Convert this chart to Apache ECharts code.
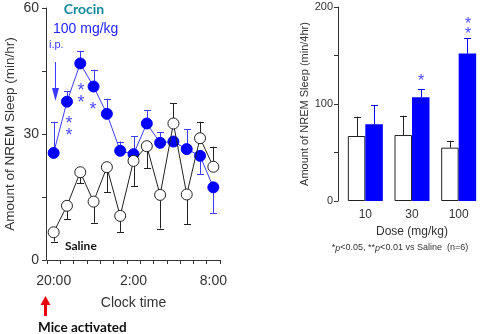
<!DOCTYPE html>
<html>
<head>
<meta charset="utf-8">
<script src="https://cdn.jsdelivr.net/npm/echarts@6/dist/echarts.min.js"></script>
<style>
  html, body { margin: 0; padding: 0; background: #fff; }
  #chart { width: 484px; height: 334px; }
</style>
</head>
<body>
<div id="chart"></div>
<script>
// time course (left panel), one point per hour
const hours = ['20:00', '21:00', '22:00', '23:00', '0:00', '1:00', '2:00', '3:00', '4:00', '5:00', '6:00', '7:00', '8:00']
const crocinMean = [25.5, 37.7, 46.8, 41.3, 34.8, 26.0, 25.2, 32.5, 27.9, 28.2, 26.4, 24.8, 17.3]
// signed SEM: positive = bar drawn upward, negative = drawn downward
const crocinErr = [7.4, 2.5, 3.0, 4.0, 3.6, 2.2, 4.3, 3.2, 2.5, 0, 4.7, -4.3, -6.2]
const salineMean = [6.6, 12.9, 20.9, 13.9, 22.1, 10.5, 23.6, 27.1, 15.5, 32.5, 15.6, 29.0, 22.2]
const salineErr = [-2.2, -3.2, -2.6, -5.0, -6.0, -3.8, -6.0, -5.3, -8.0, 4.8, -7.0, 3.9, 4.8]

// dose response (right panel), total over 4 hr
const doses = ['10', '30', '100']
const salineTotal = [67, 68, 55]
const salineTotalErr = [20, 20, 7]
const crocinTotal = [79, 107, 152]
const crocinTotalErr = [20, 8, 16]

const BLUE = '#0000ff'
const LINE_BLUE = '#3c3cff'
const STAR_BLUE = '#4a4aff'
const AXIS = '#333'
const FONT = '"Liberation Sans", Arial, sans-serif'
const BOLD_FONT = 'Lato, "Open Sans", sans-serif'

const chart = echarts.init(document.getElementById('chart'))

const errData = (mean, err) => mean.map((m, i) => [i, m, m + err[i]])

const errRender = (color, offset) => (params, api) => {
  const x = api.value(0)
  const p0 = api.coord([x, api.value(1)])
  const p1 = api.coord([x, api.value(2)])
  if (Math.abs(p1[1] - p0[1]) < 0.5) return
  const cx = Math.round(p0[0] + offset) + 0.5
  const hw = 3.5
  return {
    type: 'group',
    children: [
      { type: 'line', shape: { x1: cx, y1: p0[1], x2: cx, y2: p1[1] }, style: { stroke: color, lineWidth: 1 } },
      { type: 'line', shape: { x1: cx - hw, y1: Math.round(p1[1]) + 0.5, x2: cx + hw, y2: Math.round(p1[1]) + 0.5 }, style: { stroke: color, lineWidth: 1 } }
    ]
  }
}

const star = (x, y, size, color) => ({
  type: 'text', x, y,
  style: { text: '*', fill: color, font: `${size}px ${FONT}`, align: 'center', verticalAlign: 'middle' }
})

const option = {
  animation: false,
  grid: [
    { left: 47, top: 8, width: 173, height: 252 },
    { left: 342, top: 7, width: 140, height: 194 }
  ],
  xAxis: [
    {
      gridIndex: 0,
      type: 'category',
      data: hours,
      boundaryGap: true,
      offset: 3,
      axisLine: { lineStyle: { color: AXIS, width: 1 } },
      axisTick: { show: true, interval: 0, length: 4, inside: false, lineStyle: { color: AXIS } },
      axisLabel: { interval: 5, color: AXIS, fontSize: 14, fontFamily: FONT, margin: 11 },
      name: 'Clock time',
      nameLocation: 'middle',
      nameGap: 33,
      nameTextStyle: { color: AXIS, fontSize: 14, fontFamily: FONT }
    },
    {
      gridIndex: 1,
      type: 'category',
      data: doses,
      axisLine: { show: false },
      axisTick: { show: false },
      axisLabel: { color: AXIS, fontSize: 12, fontFamily: FONT, margin: 8 },
      name: 'Dose (mg/kg)',
      nameLocation: 'middle',
      nameGap: 25,
      nameTextStyle: { color: AXIS, fontSize: 12, fontFamily: FONT }
    }
  ],
  yAxis: [
    {
      gridIndex: 0,
      type: 'value',
      min: 0, max: 60, interval: 15,
      offset: 1,
      splitLine: { show: false },
      axisLine: { show: true, lineStyle: { color: AXIS } },
      axisTick: { show: true, length: 4, lineStyle: { color: AXIS } },
      axisLabel: {
        color: AXIS, fontSize: 14, fontFamily: FONT, margin: 7,
        formatter: v => (v % 30 === 0 ? String(v) : '')
      },
      name: 'Amount of NREM Sleep (min/hr)',
      nameLocation: 'middle',
      nameGap: 29,
      nameTextStyle: { color: AXIS, fontSize: 13.5, fontFamily: FONT }
    },
    {
      gridIndex: 1,
      type: 'value',
      min: 0, max: 200, interval: 50,
      offset: 4,
      splitLine: { show: false },
      axisLine: { show: true, lineStyle: { color: AXIS } },
      axisTick: { show: true, length: 4, lineStyle: { color: AXIS } },
      axisLabel: {
        color: AXIS, fontSize: 11, fontFamily: FONT, margin: 5,
        formatter: v => (v % 100 === 0 ? String(v) : '')
      },
      name: 'Amount of NREM Sleep (min/4hr)',
      nameLocation: 'middle',
      nameGap: 21,
      nameTextStyle: { color: AXIS, fontSize: 11, fontFamily: FONT }
    }
  ],
  series: [
    {
      type: 'custom', xAxisIndex: 0, yAxisIndex: 0, z: 1,
      renderItem: errRender(LINE_BLUE, 0),
      data: errData(crocinMean, crocinErr)
    },
    {
      type: 'custom', xAxisIndex: 0, yAxisIndex: 0, z: 1,
      renderItem: errRender('#222', 0),
      data: errData(salineMean, salineErr)
    },
    {
      name: 'Crocin', type: 'line', xAxisIndex: 0, yAxisIndex: 0, z: 3,
      data: crocinMean,
      showAllSymbol: true,
      symbol: 'circle', symbolSize: 11,
      lineStyle: { color: LINE_BLUE, width: 1 },
      itemStyle: { color: BLUE, borderColor: BLUE, borderWidth: 1 }
    },
    {
      name: 'Saline', type: 'line', xAxisIndex: 0, yAxisIndex: 0, z: 4,
      data: salineMean,
      showAllSymbol: true,
      symbol: 'circle', symbolSize: 11,
      lineStyle: { color: '#222', width: 1 },
      itemStyle: { color: '#fff', borderColor: '#222', borderWidth: 1 }
    },
    {
      name: 'Saline', type: 'bar', xAxisIndex: 1, yAxisIndex: 1,
      data: salineTotal, barWidth: 17.5, barGap: '0%',
      itemStyle: { color: '#fff', borderColor: '#222', borderWidth: 1 }
    },
    {
      name: 'Crocin', type: 'bar', xAxisIndex: 1, yAxisIndex: 1,
      data: crocinTotal, barWidth: 17.5, barGap: '0%',
      itemStyle: { color: BLUE }
    },
    {
      type: 'custom', xAxisIndex: 1, yAxisIndex: 1, z: 1,
      renderItem: errRender('#222', -8.75),
      data: errData(salineTotal, salineTotalErr)
    },
    {
      type: 'custom', xAxisIndex: 1, yAxisIndex: 1, z: 1,
      renderItem: errRender(BLUE, 8.75),
      data: errData(crocinTotal, crocinTotalErr)
    }
  ],
  graphic: [
    { type: 'text', x: 84, y: 9, style: { text: 'Crocin', fill: '#12899a', font: `bold 14px ${BOLD_FONT}`, align: 'center', verticalAlign: 'middle' } },
    { type: 'text', x: 53, y: 29, style: { text: '100 mg/kg', fill: '#2424ff', font: `14px ${FONT}`, align: 'left', verticalAlign: 'middle' } },
    { type: 'text', x: 49, y: 45, style: { text: 'i.p.', fill: '#3a3aff', font: `11px ${FONT}`, align: 'left', verticalAlign: 'middle' } },
    // injection arrow
    { type: 'line', shape: { x1: 55.5, y1: 62, x2: 55.5, y2: 92 }, style: { stroke: '#3a3aff', lineWidth: 1 } },
    { type: 'polygon', shape: { points: [[52, 88], [59, 88], [55.5, 101]] }, style: { fill: '#3a3aff' } },
    // significance stars (left)
    star(69, 124, 18, STAR_BLUE), star(69, 136, 18, STAR_BLUE),
    star(81, 91, 18, STAR_BLUE), star(81, 103, 18, STAR_BLUE),
    star(93, 110, 18, STAR_BLUE),
    { type: 'text', x: 65, y: 246, style: { text: 'Saline', fill: '#111', font: `bold 12px ${BOLD_FONT}`, align: 'left', verticalAlign: 'middle' } },
    // activation arrow
    { type: 'rect', shape: { x: 44, y: 304, width: 3, height: 12 }, style: { fill: '#e8000b' } },
    { type: 'polygon', shape: { points: [[40.5, 305], [50.5, 305], [45.5, 296]] }, style: { fill: '#e8000b' } },
    { type: 'text', x: 38, y: 328, style: { text: 'Mice activated', fill: '#111', font: `bold 13.5px ${BOLD_FONT}`, align: 'left', verticalAlign: 'middle' } },
    // significance stars (right)
    star(421, 82, 16, STAR_BLUE),
    star(468, 25, 16, STAR_BLUE), star(468, 35, 16, STAR_BLUE),
    {
      type: 'text', x: 400, y: 248,
      style: {
        text: '*{i|p}<0.05, **{i|p}<0.01 vs Saline  (n=6)',
        fill: '#333', font: `9px ${FONT}`, align: 'center', verticalAlign: 'middle',
        rich: { i: { fontStyle: 'italic', fontSize: 9, fontFamily: FONT, fill: '#333' } }
      }
    }
  ]
}

chart.setOption(option)
</script>
</body>
</html>
